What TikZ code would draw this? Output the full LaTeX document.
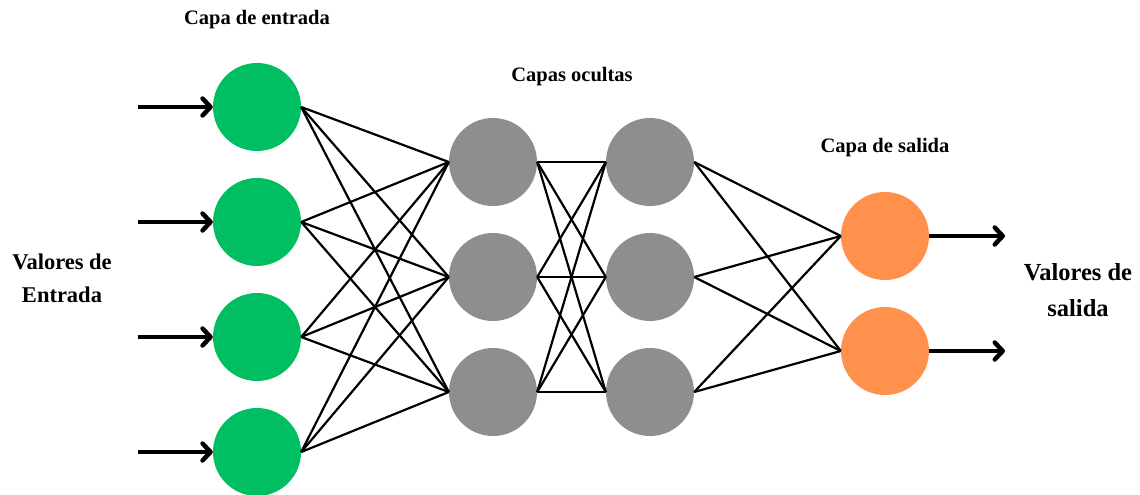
\documentclass[tikz,border=0pt]{standalone}
\usepackage{fontspec}
\setmainfont{Liberation Serif}
\usetikzlibrary{arrows.meta}
\definecolor{ingreen}{HTML}{00BF63}
\definecolor{hidgray}{HTML}{8E8E8E}
\definecolor{outorange}{HTML}{FF914D}
\begin{document}
\begin{tikzpicture}[x=1pt,y=-1pt,
  neuron/.style={circle,minimum size=88pt,inner sep=0pt,draw=none},
  innode/.style={neuron,fill=ingreen},
  hidnode/.style={neuron,fill=hidgray},
  outnode/.style={neuron,fill=outorange},
  link/.style={line width=2.2pt,black},
  bigarrow/.style={line width=4.5pt,-{Straight Barb[length=8pt,width=17pt,round]}},
  title/.style={font=\bfseries\fontsize{20.5}{24}\selectfont},
  sidelbl/.style={font=\bfseries\fontsize{22.5}{33}\selectfont,align=center}
]
\useasboundingbox (0,0) rectangle (1140,495);
% nodes
\foreach \i/\y in {1/107,2/222,3/337,4/452}
  \node[innode] (i\i) at (257,\y) {};
\foreach \i/\y in {1/162,2/277,3/392}{
  \node[hidnode] (a\i) at (493,\y) {};
  \node[hidnode] (b\i) at (650,\y) {};
}
\node[outnode] (o1) at (885,236) {};
\node[outnode] (o2) at (885,351) {};
% connections
\foreach \i in {1,...,4}
  \foreach \j in {1,2,3}
    \draw[link] (i\i.east) -- (a\j.west);
\foreach \i in {1,2,3}
  \foreach \j in {1,2,3}
    \draw[link] (a\i.east) -- (b\j.west);
\foreach \i in {1,2,3}
  \foreach \j in {1,2}
    \draw[link] (b\i.east) -- (o\j.west);
% input arrows
\foreach \i/\y in {1/107,2/222,3/337,4/452}{
  \coordinate (s\i) at (138,\y);
  \draw[bigarrow] (s\i) -- (i\i.west);
}
% output arrows
\coordinate (e1) at (1005,236);
\coordinate (e2) at (1005,351);
\draw[bigarrow] (o1.east) -- (e1);
\draw[bigarrow] (o2.east) -- (e2);
% labels
\node[title] (t1) at (257,20) {Capa de entrada};
\node[title] (t2) at (572,77) {Capas ocultas};
\node[title] (t3) at (885,148) {Capa de salida};
\node[sidelbl] (l1) at (62,278) {Valores de\\Entrada};
\node[sidelbl,font=\bfseries\fontsize{24.5}{36}\selectfont] (l2) at (1078,290) {Valores de\\salida};
\end{tikzpicture}
\end{document}
